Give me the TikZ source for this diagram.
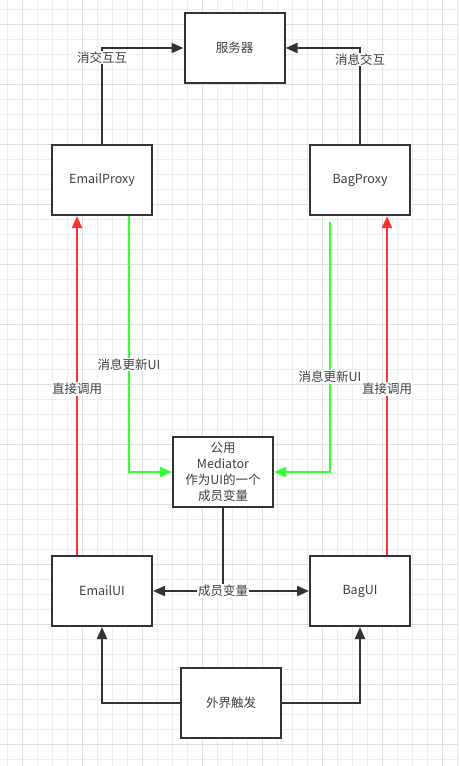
\documentclass[tikz,border=0pt]{standalone}
\usepackage{fontspec}
\setmainfont{Noto Sans CJK SC}
\usepackage{tikz}
\usetikzlibrary{arrows.meta}

\definecolor{ink}{HTML}{333333}
\definecolor{txt}{HTML}{3F3F3F}
\definecolor{redline}{HTML}{FF3333}
\definecolor{greenline}{HTML}{33FF33}
\definecolor{gridminor}{HTML}{EDEDED}
\definecolor{gridmajor}{HTML}{E0E0E0}

\begin{document}
\begin{tikzpicture}[
        x=1pt, y=-1pt,
        font=\fontsize{12.5}{16}\selectfont,
        box/.style={rectangle, draw=ink, line width=2pt, fill=white, text=txt, align=center, minimum width=100pt, minimum height=70pt, inner sep=2pt},
        lbl/.style={fill=white, text=txt, inner sep=1pt},
        arr/.style={draw=ink, line width=2pt, -{Triangle[length=12pt, width=10pt]}},
        redarr/.style={arr, draw=redline},
        greenarr/.style={arr, draw=greenline}
        ]
        % Fondo
        \useasboundingbox (0,0) rectangle (459,766);
        \fill[white] (0,0) rectangle (459,766);
        \foreach \gx in {7.5,22.5,...,459} \draw[gridminor, line width=1pt] (\gx,0) -- (\gx,766);
        \foreach \gy in {9,24,...,766} \draw[gridminor, line width=1pt] (0,\gy) -- (459,\gy);
        \foreach \gx in {22.5,82.5,...,459} \draw[gridmajor, line width=1pt] (\gx,0) -- (\gx,766);
        \foreach \gy in {24,84,...,766} \draw[gridmajor, line width=1pt] (0,\gy) -- (459,\gy);

        % Nodos
        \node[box] (server) at (234.5,48) {服务器};
        \node[box] (eproxy) at (102,180) {EmailProxy};
        \node[box] (bproxy) at (360,180) {BagProxy};
        \node[box] (med) at (223,472) {公用\\Mediator\\作为UI的一个\\成员变量};
        \node[box] (eui) at (102,591) {EmailUI};
        \node[box] (bui) at (360,591) {BagUI};
        \node[box] (trig) at (231,703) {外界触发};

        % Conexiones
        \draw[arr] (eproxy.north) |- (server.west) node[lbl, pos=0.45] {消交互互};
        \draw[arr] (bproxy.north) |- (server.east) node[lbl, pos=0.44] {消息交互};

        \draw[greenarr] ([xshift=27pt]eproxy.south) |- (med.west) node[lbl, pos=0.29] {消息更新UI};
        \draw[greenarr] ([xshift=-30pt, yshift=-6pt]bproxy.south) |- (med.east) node[lbl, pos=0.31] {消息更新UI};

        \draw[redarr] ([xshift=-25pt]eui.north) -- ([xshift=-25pt]eproxy.south) node[lbl, pos=0.49] {直接调用};
        \draw[redarr] ([xshift=27pt]bui.north) -- ([xshift=27pt]bproxy.south) node[lbl, pos=0.49] {直接调用};

        \draw[arr] (med.south) |- (eui.east);
        \draw[arr] (med.south) |- (bui.west);
        \node[lbl] (member) at (med.south |- eui.east) {成员变量};

        \draw[arr] (trig.west) -| (eui.south);
        \draw[arr] (trig.east) -| (bui.south);
\end{tikzpicture}
\end{document}
